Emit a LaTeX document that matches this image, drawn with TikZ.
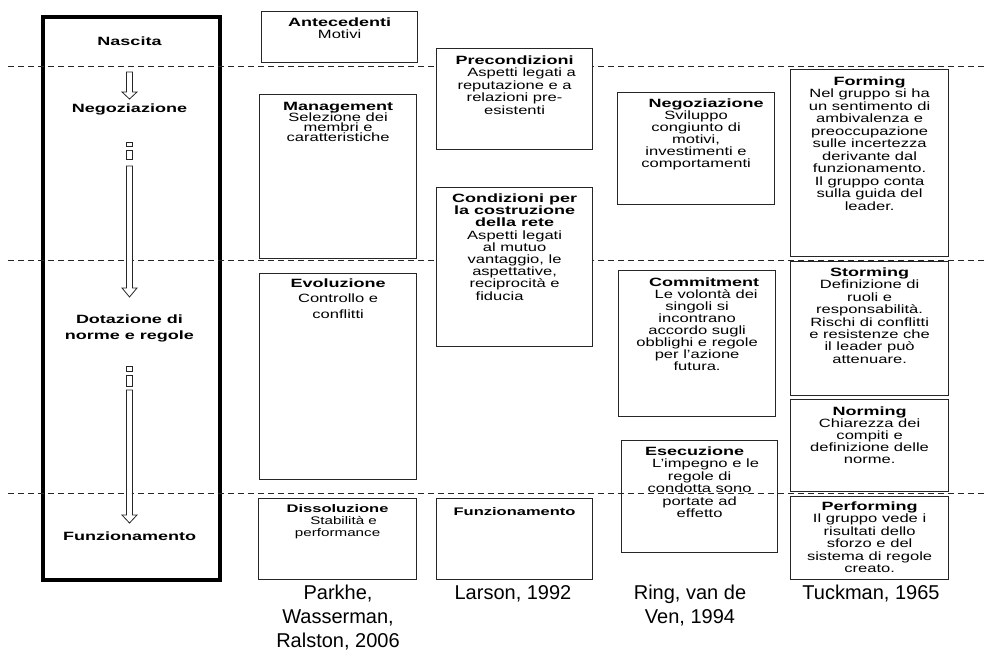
\documentclass[tikz,border=0pt]{standalone}
\usepackage{fontspec}
\setmainfont{Liberation Sans}
\newfontfamily\bxfont{Liberation Sans}[FakeStretch=1.38]
\newfontfamily\bxbold{Liberation Sans}[FakeStretch=1.5]
\newcommand{\ttl}[1]{{\bxbold\bfseries #1}}
\newcommand{\tight}{\lineskiplimit=-\maxdimen}
\usetikzlibrary{positioning}

\begin{document}
\begin{tikzpicture}[
                x=1pt, y=1pt,
                stage/.style={
                        draw=black!85,
                        line width=1.2pt,
                        fill=white,
                        anchor=north west,
                        inner sep=0pt
                    },
                txt/.style={
                        align=center,
                        inner sep=0pt,
                        font={\bxfont\fontsize{12}{12.4}\selectfont\tight}
                    },
                phase/.style={
                        align=center,
                        inner sep=0pt,
                        font={\bxbold\bfseries\fontsize{12}{16}\selectfont\tight}
                    },
                source/.style={
                        align=center,
                        anchor=north,
                        inner sep=0pt,
                        font={\fontsize{20}{24}\selectfont\tight}
                    },
                hollow/.style={
                        draw=black!85,
                        fill=white,
                        line width=0.8pt
                    },
                sep/.style={
                        draw=black!85,
                        line width=1pt,
                        dash pattern=on 6pt off 4pt
                    }
            ]
            \useasboundingbox (0,0) rectangle (987,-651);

            % Life cycle frame
            \node[draw=black, line width=3.5pt, anchor=north west, inner sep=0pt,
                  minimum width=177pt, minimum height=563pt] (cycle) at (41,-15) {};

            % Execution box lies under the separators
            \node[stage, fill=none, minimum width=156pt, minimum height=112pt] (esec) at (621,-440) {};

            % Phase separators
            \foreach \y in {66,260,493}
                \draw[sep] (8,-\y) -- (987,-\y);

            % Phases of the cycle
            \node[phase] (nascita) at (129.5,-41) {Nascita};
            \node[phase] (negoz) at (129.5,-109) {Negoziazione};
            \node[phase] (dotaz) at (129.5,-328) {Dotazione di\\norme e regole};
            \node[phase] (funz) at (129.5,-536) {Funzionamento};

            % Striped arrows
            \foreach \ya/\yb/\yc in {72/92/99, 166/288/297, 390/515/523}
                \draw[hollow] (126.5,-\ya) -- (132.5,-\ya) -- (132.5,-\yb) -- (137,-\yb)
                    -- (129.5,-\yc) -- (122,-\yb) -- (126.5,-\yb) -- cycle;
            \foreach \ya/\yb in {142/146, 150/159, 366/371, 375/386}
                \draw[hollow] (126.5,-\ya) rectangle (132.5,-\yb);

            % Parkhe, Wasserman, Ralston
            \node[stage, minimum width=156pt, minimum height=51pt] (ante) at (261,-11) {};
            \node[stage, minimum width=157pt, minimum height=164pt] (mgmt) at (259,-94) {};
            \node[stage, minimum width=157pt, minimum height=206pt] (evol) at (259,-273) {};
            \node[stage, minimum width=158pt, minimum height=81pt] (diss) at (258,-498) {};

            \node[txt, below=6.5pt of ante.north] (ante-t) {\ttl{Antecedenti}\\Motivi};
            \node[txt, below=8.5pt of mgmt.north, font={\bxfont\fontsize{12}{10.3}\selectfont\tight}] (mgmt-t)
                {\ttl{Management}\\Selezione dei\\membri e\\caratteristiche};
            \node[txt, below=5.5pt of evol.north, font={\bxfont\fontsize{12}{15.5}\selectfont\tight}] (evol-t)
                {\ttl{Evoluzione}\\Controllo e\\conflitti};
            \node[txt, below=6.5pt of diss.north, font={\bxfont\fontsize{11}{12}\selectfont\tight}] (diss-t)
                {\ttl{Dissoluzione}\\\hspace*{12pt}Stabilità e\\performance};

            % Larson
            \node[stage, minimum width=156pt, minimum height=101pt] (prec) at (436,-48) {};
            \node[stage, minimum width=156pt, minimum height=159pt] (cond) at (436,-187) {};
            \node[stage, minimum width=156pt, minimum height=81pt] (funzl) at (436,-498) {};

            \node[txt, below=7.5pt of prec.north, font={\bxfont\fontsize{12}{12.5}\selectfont\tight}] (prec-t)
                {\ttl{Precondizioni}\\\hspace*{14pt}Aspetti legati a\\reputazione e a\\relazioni pre-\\esistenti};
            \node[txt, below=6.5pt of cond.north, font={\bxfont\fontsize{12}{12.2}\selectfont\tight}] (cond-t)
                {\ttl{Condizioni per}\\\ttl{la costruzione}\\\ttl{della rete}\\Aspetti legati\\al mutuo\hspace*{22pt}\\vantaggio, le\hspace*{14pt}\\aspettative,\hspace*{22pt}\\reciprocità e\hspace*{16pt}\\fiducia\hspace*{30pt}};
            \node[txt, below=9pt of funzl.north, font={\bxfont\fontsize{11}{12}\selectfont\tight}] (funzl-t)
                {\ttl{Funzionamento}};

            % Ring, van de Ven
            \node[stage, minimum width=157pt, minimum height=112pt] (nego) at (617,-92) {};
            \node[stage, minimum width=157pt, minimum height=146pt] (comm) at (618,-270) {};

            \node[txt, below=6.5pt of nego.north, font={\bxfont\fontsize{12}{12}\selectfont\tight}] (nego-t)
                {\hspace*{20pt}\ttl{Negoziazione}\\Sviluppo\hspace*{10pt}\\congiunto di\\motivi,\hspace*{6pt}\\investimenti e\\comportamenti};
            \node[txt, below=7.5pt of comm.north, font={\bxfont\fontsize{12}{12}\selectfont\tight}] (comm-t)
                {\hspace*{14pt}\ttl{Commitment}\\\hspace*{18pt}Le volontà dei\\singoli si\\incontrano\\accordo sugli\\obblighi e regole\\per l’azione\\futura.};
            \node[txt, below=6.5pt of esec.north, font={\bxfont\fontsize{12}{12.4}\selectfont\tight}] (esec-t)
                {\ttl{Esecuzione}\hspace*{10pt}\\\hspace*{12pt}L’impegno e le\\regole di\\condotta sono\\portate ad\\effetto};

            % Tuckman
            \node[stage, minimum width=158pt, minimum height=187pt] (form) at (790,-69) {};
            \node[stage, minimum width=158pt, minimum height=134pt] (storm) at (790,-261) {};
            \node[stage, minimum width=158pt, minimum height=92pt] (norm) at (790,-399) {};
            \node[stage, minimum width=158pt, minimum height=83pt] (perf) at (790,-496) {};

            \node[txt, below=7.5pt of form.north, font={\bxfont\fontsize{12}{12.5}\selectfont\tight}] (form-t)
                {\ttl{Forming}\\Nel gruppo si ha\\un sentimento di\\ambivalenza e\\preoccupazione\\sulle incertezza\\derivante dal\\funzionamento.\\Il gruppo conta\\sulla guida del\\leader.};
            \node[txt, below=6.5pt of storm.north] (storm-t)
                {\ttl{Storming}\\Definizione di\\ruoli e\\responsabilità.\\Rischi di conflitti\\e resistenze che\\il leader può\\attenuare.};
            \node[txt, below=7.5pt of norm.north, font={\bxfont\fontsize{12}{12}\selectfont\tight}] (norm-t)
                {\ttl{Norming}\\Chiarezza dei\\compiti e\\definizione delle\\norme.};
            \node[txt, below=5.5pt of perf.north] (perf-t)
                {\ttl{Performing}\\Il gruppo vede i\\risultati dello\\sforzo e del\\sistema di regole\\creato.};

            % Sources
            \node[source] (src-a) at (338,-585) {Parkhe,\\Wasserman,\\Ralston, 2006};
            \node[source] (src-b) at (513,-585) {Larson, 1992};
            \node[source] (src-c) at (690,-585) {Ring, van de\\Ven, 1994};
            \node[source] (src-d) at (871,-585) {Tuckman, 1965};

        \end{tikzpicture}
\end{document}
